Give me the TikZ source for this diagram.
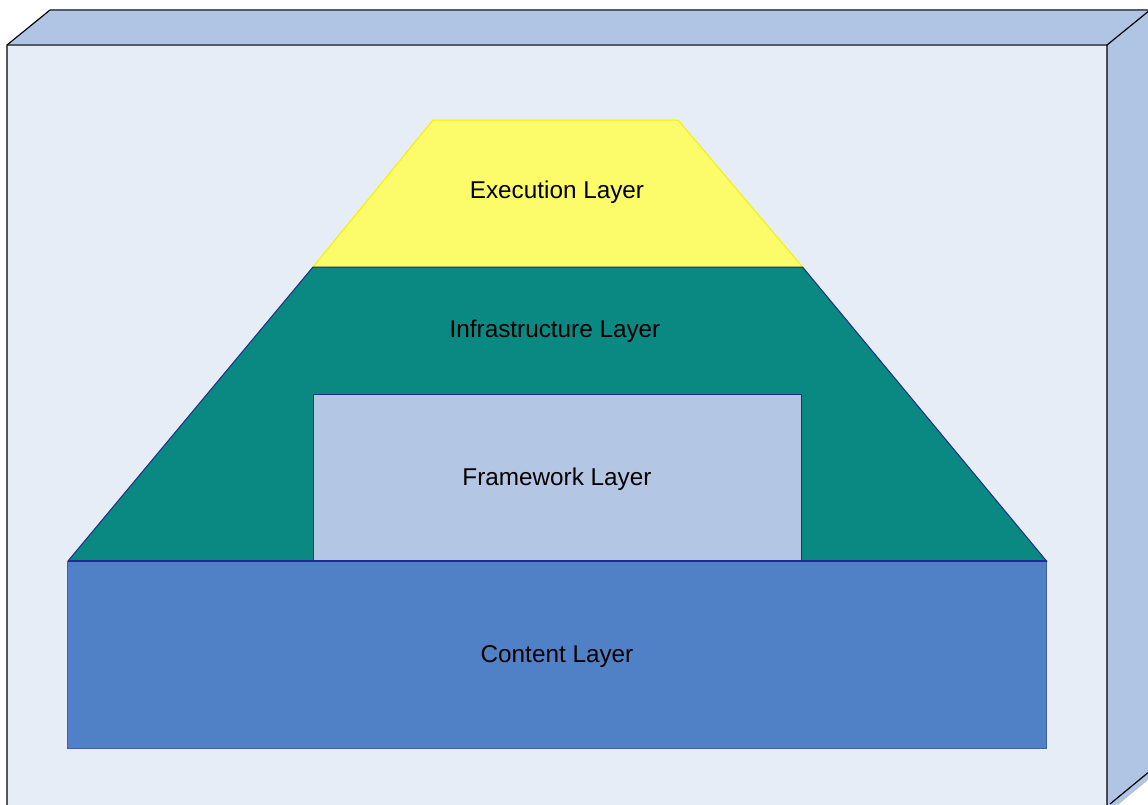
\documentclass[tikz,border=0pt]{standalone}
\usepackage{fontspec}
\setmainfont{Liberation Sans}
\definecolor{frontc}{HTML}{E6EDF7}
\definecolor{topc}{HTML}{B0C5E4}
\definecolor{edgec}{HTML}{555A66}
\definecolor{execc}{HTML}{FCFC6A}
\definecolor{execl}{HTML}{F2F200}
\definecolor{infrac}{HTML}{0A8882}
\definecolor{navy}{HTML}{1F2C8F}
\definecolor{framec}{HTML}{B3C6E4}
\definecolor{contc}{HTML}{5080C6}
\definecolor{contl}{HTML}{3A62AE}
\tikzset{
  lbl/.style={font=\fontsize{24.3}{28}\selectfont, text=black, inner sep=0pt},
  boxface/.style={draw=black, line width=1.2pt, line join=miter},
}
\begin{document}
\begin{tikzpicture}[x=1pt,y=-1pt]
\useasboundingbox (0,0) rectangle (1148,804);
\clip (0,0) rectangle (1148,804);
% box
\fill[frontc] (7,45) rectangle (1107,810);
\fill[topc] (7,45) -- (50,10) -- (1160,10) -- (1160,45) -- cycle;
\fill[topc] (1107,45) -- (1150,10) -- (1160,10) -- (1160,770) -- (1107,814) -- cycle;
\draw[edgec, line width=2pt] (50,10) -- (1160,10);
\draw[edgec, line width=1.8pt] (7,45) -- (1107,45);
\draw[black, line width=1.2pt] (7,810) -- (7,45) -- (50,10);
\draw[black, line width=1.2pt] (1107,810) -- (1107,45) -- (1150,10);
\draw[black, line width=1.2pt] (1110,804) -- (1150,771);
% layers
\coordinate (e1) at (433,120); \coordinate (e2) at (678,120);
\coordinate (e3) at (802.5,267); \coordinate (e4) at (313,267);
\coordinate (i3) at (1046.5,561); \coordinate (i4) at (68,561);
\fill[execc, draw=execl, line width=1pt] (e1) -- (e2) -- (e3) -- (e4) -- cycle;
\fill[infrac, draw=navy, line width=1pt] (e4) -- (e3) -- (i3) -- (i4) -- cycle;
\fill[framec, draw=navy, line width=1pt] (313,394) rectangle (801.5,561);
\fill[contc, draw=contl, line width=1pt] (67.5,561) rectangle (1046.5,748);
\draw[navy, line width=1.2pt] (68,561) -- (1046.5,561);
% labels
\node[lbl] (exec) at (557,192) {Execution Layer};
\node[lbl] (infra) at (555,331) {Infrastructure Layer};
\node[lbl] (frame) at (557,479) {Framework Layer};
\node[lbl] (cont) at (557,657) {Content Layer};
\end{tikzpicture}
\end{document}
